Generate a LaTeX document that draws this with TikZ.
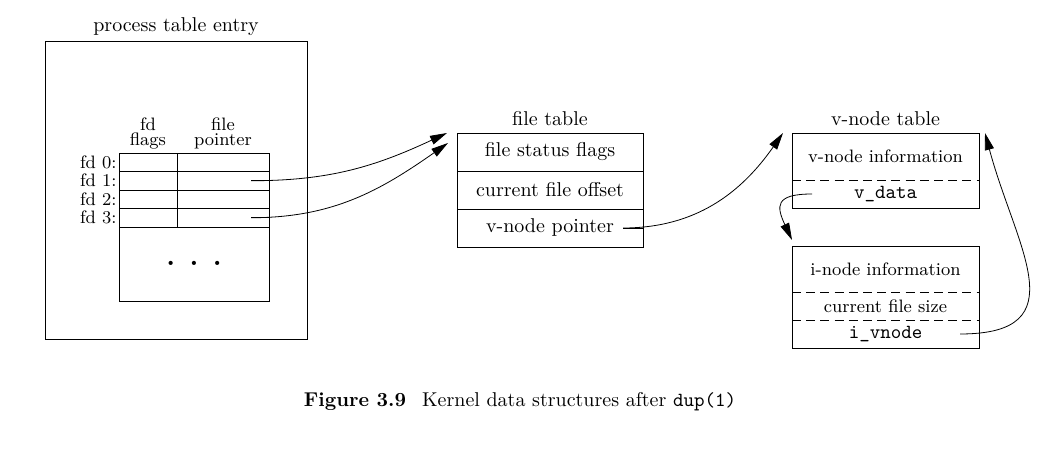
\documentclass[tikz,border=0pt]{standalone}
\usepackage{amsmath,amssymb}
\usepackage{xcolor}
\usepackage{tikz}
\usetikzlibrary{positioning, arrows.meta, calc}

\begin{document}
\begin{tikzpicture}[
  x=0.5pt, y=0.5pt,
  font=\normalsize,
  cell/.style={draw, minimum width=#1, minimum height=9.25pt, inner sep=0pt, outer sep=0pt},
  slot/.style={draw, minimum width=93pt, minimum height=19pt, inner sep=0pt, outer sep=0pt},
  part/.style={minimum width=93.5pt, minimum height=#1, inner sep=0pt, outer sep=0pt},
  ptr/.style={-{Triangle[length=8.5pt, width=4.6pt]}},
  sep/.style={dash pattern=on 4.5pt off 2.6pt},
  fdlabel/.style={font=\small, inner sep=1pt},
]
\useasboundingbox (0,0) rectangle (1064,-459);

% Left: process table entry
\node[draw, minimum width=131pt, minimum height=149pt] (proc) at (176,-190) {};
\node[anchor=base] (proctitle) at (176,-32) {process table entry};
\foreach \i in {0,...,3} {
  \pgfmathsetmacro{\ry}{-162.25-18.5*\i}
  \node[cell=29pt] (flag\i) at (148,\ry) {};
  \node[cell=46pt] (ptr\i)  at (223,\ry) {};
  \node[fdlabel, left=0pt of flag\i] (fd\i) {fd \i:};
}
\node[draw, minimum width=75pt, minimum height=37pt] (rest) at (194,-264) {};
\node[font=\scriptsize] (dots) at (rest.center)
  {\textbullet\hspace{5.5pt}\textbullet\hspace{5.5pt}\textbullet};
\node[font=\small, align=center, above=-1.5pt of flag0] (hflags) {fd\\[-3.5pt]flags};
\node[font=\small, align=center, above=-1.5pt of ptr0] (hptr) {file\\[-3.5pt]pointer};
\coordinate (fp1) at ($(ptr1.east)+(-18,0)$);
\coordinate (fp3) at ($(ptr3.east)+(-18,0)$);

% Middle: file table
\node[slot] (ft1) at (550,-152) {file status flags};
\node[slot, below=0pt of ft1] (ft2) {current file offset};
\node[slot, below=0pt of ft2] (ft3) {v-node pointer\hspace{10pt}};
\node[above=0pt of ft1] (fttitle) {file table};
\coordinate (fin1) at ($(ft1.north west)+(-10,0)$);
\coordinate (fin2) at ($(ft1.north west)+(-9,-10)$);
\coordinate (fvp) at ($(ft3.east)+(-20,0)$);

% Right: v-node and i-node
\node[part=23.5pt, font=\small] (vinfo) at (885.5,-156.5) {v-node information};
\node[part=14pt, below=0pt of vinfo] (vdata) {\texttt{v\_data}};
\draw (vinfo.north west) rectangle (vdata.south east);
\draw[sep] (vinfo.south west) -- (vinfo.south east);
\node[above=0pt of vinfo] (vtitle) {v-node table};

\node[part=23pt, font=\small] (iinfo) at (885.5,-269) {i-node information};
\node[part=14pt, font=\small, below=0pt of iinfo] (isize) {current file size};
\node[part=14pt, below=0pt of isize] (ivnode) {\texttt{i\_vnode}};
\draw (iinfo.north west) rectangle (ivnode.south east);
\draw[sep] (iinfo.south west) -- (iinfo.south east);
\draw[sep] (isize.south west) -- (isize.south east);

\coordinate (vin) at ($(vinfo.north west)+(-9,0)$);
\coordinate (vdp) at ($(vdata.west)+(20,0)$);
\coordinate (iin) at ($(iinfo.north west)+(0,6)$);
\coordinate (ivp) at ($(ivnode.east)+(-19,0)$);
\coordinate (vback) at ($(vinfo.north east)+(6,0)$);

% pointers
\draw (fp1) -- (ptr1.east);
\draw (fp3) -- (ptr3.east);
\draw[ptr] (fp1) to[out=0, in=205] (fin1);
\draw[ptr] (fp3) to[out=0, in=215] (fin2);
\draw[ptr] (fvp) to[out=0, in=235] (vin);
\draw (fvp) -- (ft3.east);
\draw[ptr] (vdp) to[out=180, in=115, looseness=1.9] (iin);
\draw[ptr] (ivp) to[out=0, in=-75, looseness=1.5] (vback);

\node[anchor=base] (caption) at (520,-406)
  {\textbf{Figure 3.9}\hspace{8pt}Kernel data structures after \texttt{dup(1)}};

\end{tikzpicture}
\end{document}
